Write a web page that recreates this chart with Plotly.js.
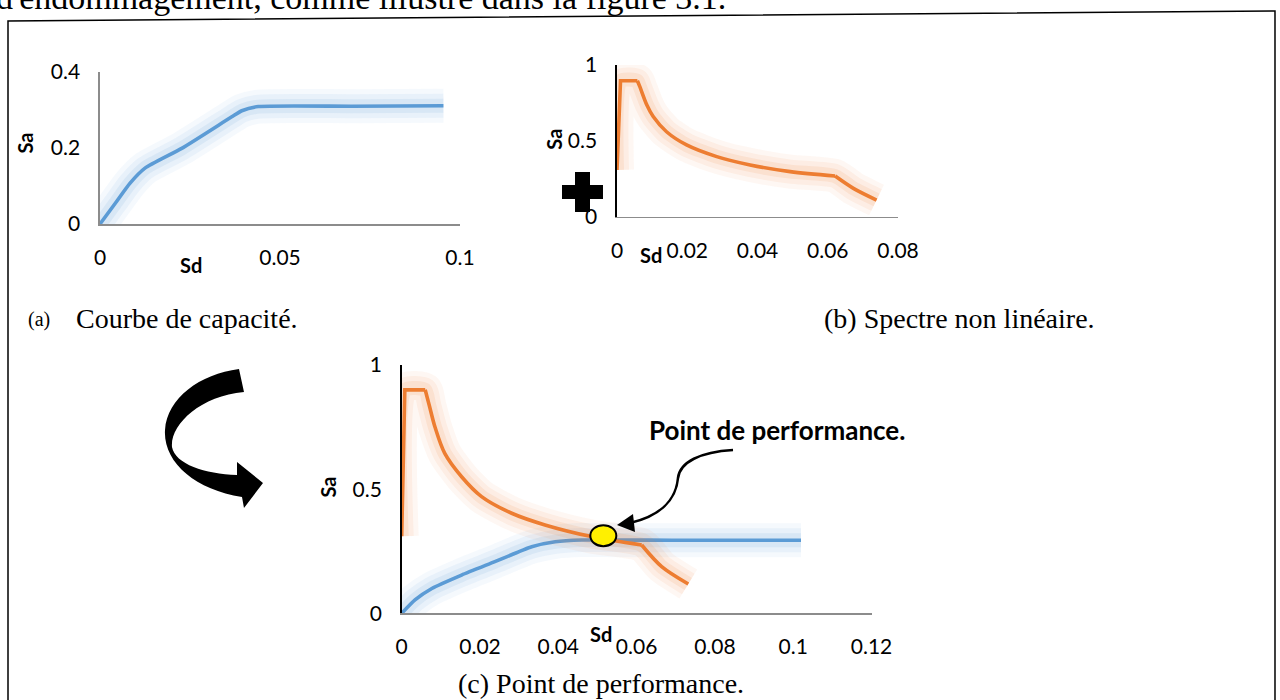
<!DOCTYPE html>
<html>
<head>
<meta charset="utf-8">
<script src="https://cdn.plot.ly/plotly-3.0.1.min.js"></script>
<style>
html,body{margin:0;padding:0;background:#fff;}
#chart{width:1280px;height:700px;}
</style>
</head>
<body>
<div id="chart"></div>
<script>
// ---- Data ----
// (a) Courbe de capacité
const capSd = [0, 0.0042, 0.0083, 0.0125, 0.0227, 0.0366, 0.0394, 0.044, 0.07, 0.0954];
const capSa = [0, 0.054, 0.107, 0.147, 0.199, 0.282, 0.298, 0.309, 0.310, 0.311];
// (b) Spectre non linéaire
const specSdB = [0, 0.001, 0.0058, 0.0065, 0.0085, 0.0103, 0.0141, 0.0198, 0.0284, 0.0379, 0.0493, 0.0621, 0.0673, 0.0739];
const specSaB = [0.308, 0.896, 0.896, 0.857, 0.736, 0.66, 0.56, 0.473, 0.396, 0.341, 0.297, 0.268, 0.187, 0.11];
// (c) Point de performance
const specSdC = [0, 0.0008, 0.006, 0.007, 0.0085, 0.011, 0.0153, 0.0204, 0.0281, 0.0366, 0.0485, 0.0613, 0.0664, 0.0732];
const specSaC = [0.31, 0.9, 0.9, 0.84, 0.75, 0.644, 0.55, 0.47, 0.403, 0.356, 0.309, 0.275, 0.188, 0.118];
const capSdC = [0, 0.0034, 0.0077, 0.0153, 0.0238, 0.0332, 0.0392, 0.046, 0.07, 0.102];
const capSaC = [0, 0.054, 0.1, 0.154, 0.208, 0.268, 0.288, 0.295, 0.294, 0.294];
const perfSd = [0.0515];
const perfSa = [0.3125];
// Ticks
const ticksXa = [0, 0.05, 0.1];
const ticksXaText = ['0', '0.05', '0.1'];
const ticksYa = [0, 0.2, 0.4];
const ticksYaText = ['0', '0.2', '0.4'];
const ticksXb = [0, 0.02, 0.04, 0.06, 0.08];
const ticksXbText = ['0', '0.02', '0.04', '0.06', '0.08'];
const ticksY1 = [0, 0.5, 1];
const ticksY1Text = ['0', '0.5', '1'];
const ticksXc = [0, 0.02, 0.04, 0.06, 0.08, 0.1, 0.12];
const ticksXcText = ['0', '0.02', '0.04', '0.06', '0.08', '0.1', '0.12'];
// Texts
const topText = "d'endommagement, comme illustré dans la figure 3.1.";
const capA1 = '(a)';
const capA2 = 'Courbe de capacité.';
const capB = '(b) Spectre non linéaire.';
const capC = '(c) Point de performance.';
const perfLabel = 'Point de performance.';

// ---- Layout helpers (pixel -> paper) ----
const W = 1280, H = 700;
const px = x => x / W;
const py = y => 1 - y / H;
function path(pts) {
  return pts.map(p => {
    if (typeof p === 'string') return p;
    return px(p[0]).toFixed(5) + ',' + py(p[1]).toFixed(5);
  }).join(' ');
}

const BLUE = '#5B9BD5', ORANGE = '#ED7D31';
const BLUE_GLOW = 'rgba(91,155,213,', ORANGE_GLOW = 'rgba(237,125,49,';

function glow(x, y, xa, ya, g) {
  return [
    {x, y, xaxis: xa, yaxis: ya, mode: 'lines', line: {color: g + '0.06)', width: 34, shape: 'spline', smoothing: 0.6}, hoverinfo: 'skip'},
    {x, y, xaxis: xa, yaxis: ya, mode: 'lines', line: {color: g + '0.08)', width: 24, shape: 'spline', smoothing: 0.6}, hoverinfo: 'skip'},
    {x, y, xaxis: xa, yaxis: ya, mode: 'lines', line: {color: g + '0.11)', width: 14, shape: 'spline', smoothing: 0.6}, hoverinfo: 'skip'}
  ];
}
function core(x, y, xa, ya, col, shape, sm) {
  return {x, y, xaxis: xa, yaxis: ya, mode: 'lines',
    line: {color: col, width: 3.6, shape: shape, smoothing: sm}, hoverinfo: 'skip'};
}
// spectrum: linear rise/plateau, smooth decay, then final branch
function spectrum(sd, sa, xa, ya) {
  const kink = sd.length - 3;
  return [].concat(
    glow(sd, sa, xa, ya, ORANGE_GLOW),
    [core(sd.slice(0, 3), sa.slice(0, 3), xa, ya, ORANGE, 'linear', 0),
     core(sd.slice(2, kink + 1), sa.slice(2, kink + 1), xa, ya, ORANGE, 'spline', 0.9),
     core(sd.slice(kink), sa.slice(kink), xa, ya, ORANGE, 'spline', 0.9)]
  );
}
function capacity(sd, sa, xa, ya) {
  return [].concat(glow(sd, sa, xa, ya, BLUE_GLOW), [core(sd, sa, xa, ya, BLUE, 'spline', 0.55)]);
}

const traces = [].concat(
  capacity(capSd, capSa, 'x', 'y'),
  spectrum(specSdB, specSaB, 'x2', 'y2'),
  capacity(capSdC, capSaC, 'x3', 'y3'),
  spectrum(specSdC, specSaC, 'x3', 'y3')
);

const tickFont = {family: 'Lato, "Open Sans", sans-serif', size: 21, color: '#000'};
function xax(domain, range, tv, tt, lineColor) {
  return {domain, range, tickvals: tv, ticktext: tt, showgrid: false, zeroline: false,
    showline: true, linecolor: lineColor, linewidth: 1.6, ticks: '', tickfont: tickFont,
    ticklabelstandoff: 14, fixedrange: true};
}
function yax(domain, range, tv, tt, lineColor) {
  return {domain, range, tickvals: tv, ticktext: tt, showgrid: false, zeroline: false,
    showline: true, linecolor: lineColor, linewidth: 1.6, ticks: '', tickfont: tickFont,
    ticklabelstandoff: 14, fixedrange: true};
}

const serif = 'Liberation Serif, "Times New Roman", serif';
const boldFont = s => ({family: 'Lato, "Open Sans", sans-serif', size: s, color: '#000', weight: 700});
function ann(text, x, y, font, opts) {
  return Object.assign({text, x: px(x), y: py(y), xref: 'paper', yref: 'paper', showarrow: false,
    font, xanchor: 'center', yanchor: 'middle'}, opts || {});
}

const annotations = [
  ann(topText, -6, -3, {family: serif, size: 34, color: '#000'}, {xanchor: 'left'}),
  ann('Sa', 24.5, 143, boldFont(20), {textangle: -90}),
  ann('Sd', 191, 265, boldFont(20)),
  ann('Sa', 553.7, 139, boldFont(20), {textangle: -90}),
  ann('Sd', 651, 255, boldFont(20)),
  ann('Sa', 327.5, 487, boldFont(20), {textangle: -90}),
  ann('Sd', 601, 634, boldFont(20)),
  ann(capA1, 26, 319, {family: serif, size: 20, color: '#000'}, {xanchor: 'left'}),
  ann(capA2, 74, 318, {family: serif, size: 28, color: '#000'}, {xanchor: 'left'}),
  ann(capB, 1097, 318, {family: serif, size: 28, color: '#000'}, {xanchor: 'right'}),
  ann(capC, 456, 683, {family: serif, size: 28, color: '#000'}, {xanchor: 'left'}),
  ann(perfLabel, 777, 430, boldFont(26))
];

const shapes = [
  // frame
  {type: 'path', xref: 'paper', yref: 'paper', path: 'M' + path([[8, 703], 'L', [8, 21], 'L', [1275, 11], 'L', [1275, 703]]),
    line: {color: '#000', width: 1.5}},
  // plus sign
  {type: 'path', xref: 'paper', yref: 'paper', fillcolor: '#000', line: {width: 0},
    path: 'M' + path([[575, 172], 'L', [590, 172], 'L', [590, 185], 'L', [603, 185], 'L', [603, 199], 'L', [590, 199],
      'L', [590, 212], 'L', [575, 212], 'L', [575, 199], 'L', [562, 199], 'L', [562, 185], 'L', [575, 185]]) + ' Z'},
  // big curved arrow
  {type: 'path', xref: 'paper', yref: 'paper', fillcolor: '#000', line: {width: 0},
    path: 'M' + path([[239, 369], 'C', [200, 374], [167, 398], [165, 430], 'C', [163, 462], [195, 490], [242, 497],
      'L', [244, 508], 'L', [263, 483], 'L', [237, 462], 'L', [237, 475],
      'C', [205, 474], [175, 464], [172, 447], 'C', [170, 425], [200, 396], [244, 392]]) + ' Z'},
  // small pointer arrow
  {type: 'path', xref: 'paper', yref: 'paper', line: {color: '#000', width: 2.6},
    path: 'M' + path([[733, 450], 'C', [700, 452], [680, 462], [678, 478], 'C', [676, 500], [660, 516], [630, 523]])},
  {type: 'path', xref: 'paper', yref: 'paper', fillcolor: '#000', line: {width: 0},
    path: 'M' + path([[617, 525], 'L', [633, 514], 'L', [635, 532]]) + ' Z'},
  // performance point ellipse
  {type: 'circle', xref: 'x3', yref: 'y3', xsizemode: 'pixel', ysizemode: 'pixel',
    xanchor: perfSd[0], yanchor: perfSa[0], x0: -13, x1: 13, y0: -10.5, y1: 10.5,
    fillcolor: '#FFF000', line: {color: '#000', width: 2}}
];

const layout = {
  width: W, height: H,
  margin: {l: 0, r: 0, t: 0, b: 0},
  paper_bgcolor: '#fff', plot_bgcolor: 'rgba(0,0,0,0)',
  showlegend: false, hovermode: false,
  xaxis: xax([px(100), px(460)], [0, 0.1], ticksXa, ticksXaText, '#8C8C8C'),
  yaxis: yax([py(224), py(72)], [0, 0.4], ticksYa, ticksYaText, '#8C8C8C'),
  xaxis2: xax([px(617), px(898)], [0, 0.08], ticksXb, ticksXbText, '#8C8C8C'),
  yaxis2: yax([py(216.7), py(65)], [0, 1], ticksY1, ticksY1Text, '#000'),
  xaxis3: xax([px(401.7), px(871.5)], [0, 0.12], ticksXc, ticksXcText, '#8C8C8C'),
  yaxis3: yax([py(613.3), py(365)], [0, 1], ticksY1, ticksY1Text, '#000'),
  annotations, shapes
};
layout.xaxis.anchor = 'y'; layout.yaxis.anchor = 'x';
layout.xaxis2.anchor = 'y2'; layout.yaxis2.anchor = 'x2';
layout.xaxis3.anchor = 'y3'; layout.yaxis3.anchor = 'x3';

Plotly.newPlot('chart', traces, layout, {displayModeBar: false, staticPlot: true});
</script>
</body>
</html>
